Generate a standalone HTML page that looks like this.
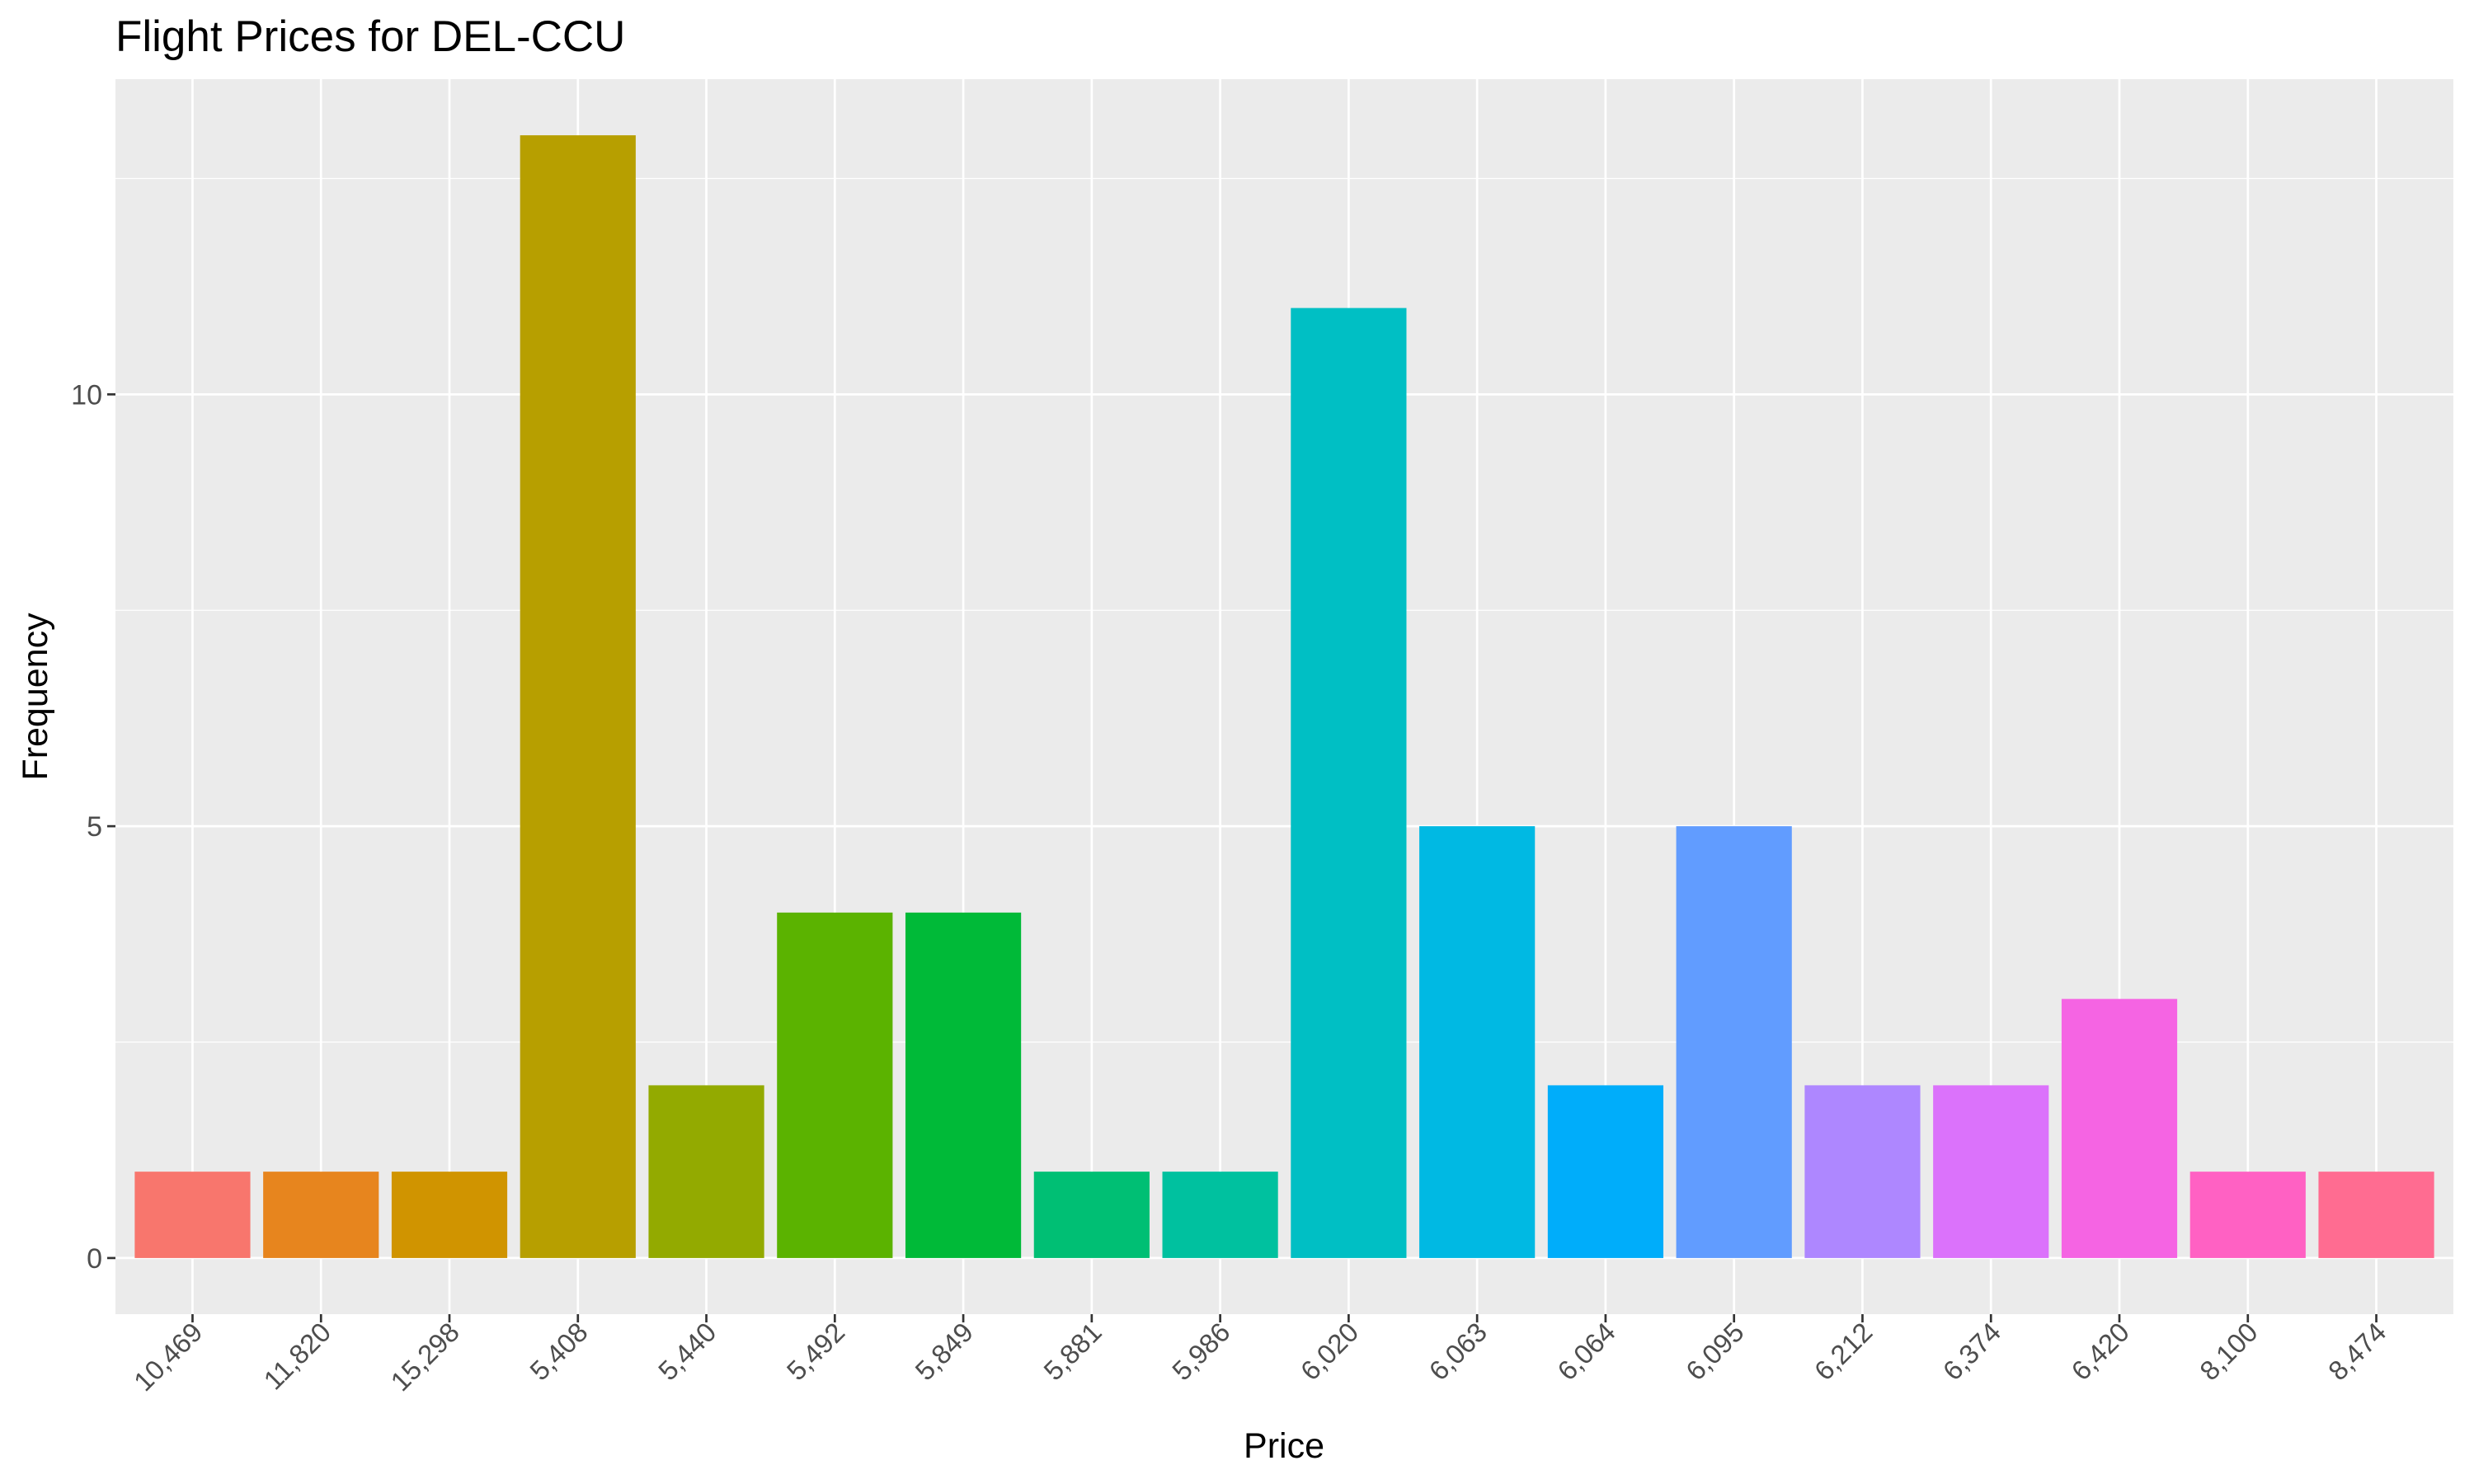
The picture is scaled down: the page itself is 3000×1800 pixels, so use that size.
<!DOCTYPE html>
<html><head><meta charset="utf-8"><style>
html,body{margin:0;padding:0;background:#fff;}
svg{display:block;font-family:"Liberation Sans",Arial,sans-serif;}
</style></head><body>
<svg id="chart" width="3000" height="1800" viewBox="0 0 3000 1800" xmlns="http://www.w3.org/2000/svg">
<rect width="3000" height="1800" fill="#fff"/>
<text x="140" y="62" font-size="53" fill="#000">Flight Prices for DEL-CCU</text>
<rect x="140" y="96" width="2835" height="1498" fill="#EBEBEB"/>
<g id="grid"></g>
<g id="bars"></g>
<g id="yaxis"></g>
<g id="xaxis"></g>
<text x="1557" y="1768" font-size="43" text-anchor="middle" fill="#000">Price</text>
<text transform="translate(57,845) rotate(-90)" font-size="43" text-anchor="middle" fill="#000">Frequency</text>
</svg>
<script>
const categories = ["10,469","11,820","15,298","5,408","5,440","5,492","5,849","5,881","5,986","6,020","6,063","6,064","6,095","6,212","6,374","6,420","8,100","8,474"];
const counts = [1,1,1,13,2,4,4,1,1,11,5,2,5,2,2,3,1,1];
const colors = ["#F8766D","#E7851E","#D09400","#B79F00","#93AA00","#5BB300","#00BA38","#00BF74","#00C19F","#00BFC4","#00B9E3","#00ADFA","#619CFF","#AE87FF","#DB72FB","#F564E3","#FF61C3","#FF6C91"];
const yTicks = [0,5,10];
const yMinor = [2.5,7.5,12.5];

const NS="http://www.w3.org/2000/svg";
const L=140,R=2975,T=96,B=1594;
const maxV=Math.max(...counts);
const yLo=-0.05*maxV, yHi=maxV*1.05;
const y=v=>B-(v-yLo)/(yHi-yLo)*(B-T);
const step=(R-L)/(categories.length-1+1.2);
const x=i=>L+step*(0.6+i);
function mk(tag,attrs,parent){const e=document.createElementNS(NS,tag);for(const k in attrs)e.setAttribute(k,attrs[k]);parent.appendChild(e);return e;}
const grid=document.getElementById('grid');
yMinor.forEach(v=>{if(v<yHi){const l=mk('line',{x1:L,x2:R,y1:y(v),y2:y(v),stroke:'#fff','stroke-width':1.3},grid);

}});
yTicks.forEach(v=>{const l=mk('line',{x1:L,x2:R,y1:y(v),y2:y(v),stroke:'#fff','stroke-width':2.7},grid);

});
categories.forEach((c,i)=>{const l=mk('line',{x1:x(i),x2:x(i),y1:T,y2:B,stroke:'#fff','stroke-width':2.7},grid);

});
const bars=document.getElementById('bars');
const bw=step*0.9;
counts.forEach((v,i)=>{const r=mk('rect',{x:x(i)-bw/2,y:y(v),width:bw,height:y(0)-y(v),fill:colors[i]},bars);

});
const ya=document.getElementById('yaxis');
yTicks.forEach(v=>{const t=mk('line',{x1:L-10,x2:L,y1:y(v),y2:y(v),stroke:'#333','stroke-width':2.7},ya);


const tx=mk('text',{x:L-16,y:y(v)+12,'font-size':34,'text-anchor':'end',fill:'#4D4D4D'},ya);
tx.textContent=v;

});
const xa=document.getElementById('xaxis');
categories.forEach((c,i)=>{const t=mk('line',{x1:x(i),x2:x(i),y1:B,y2:B+10,stroke:'#333','stroke-width':2.7},xa);


const tx=mk('text',{transform:`translate(${x(i)+14},${B+24}) rotate(-45)`,'font-size':33,'text-anchor':'end',fill:'#4D4D4D'},xa);
tx.textContent=c;

});
</script>
</body></html>
